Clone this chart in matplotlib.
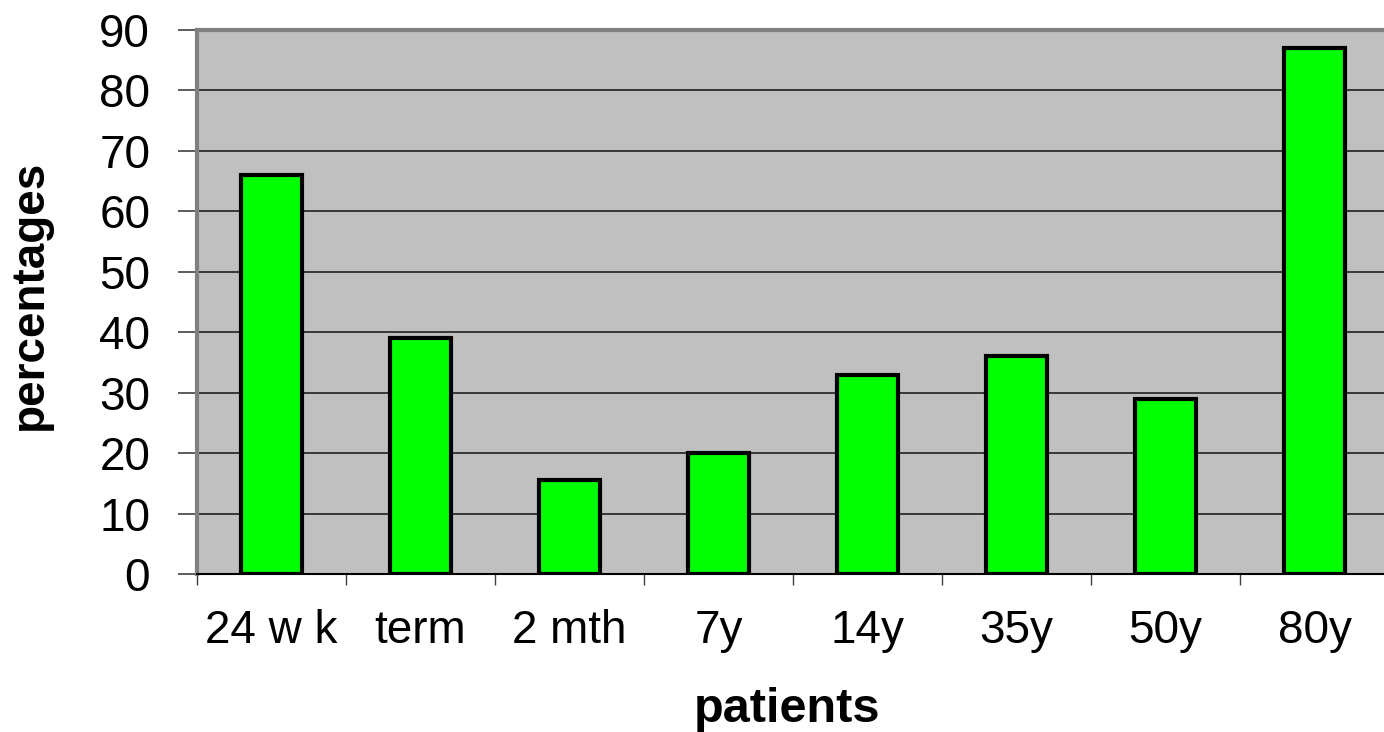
import numpy as np
import matplotlib.pyplot as plt

categories = ['24 w k', 'term', '2 mth', '7y', '14y', '35y', '50y', '80y']
values = [66, 39, 15.5, 20, 33, 36, 29, 87]
yticks = [0, 10, 20, 30, 40, 50, 60, 70, 80, 90]

plt.rcParams['font.family'] = ['Liberation Sans', 'DejaVu Sans']

fig = plt.figure(figsize=(13.84, 7.32), dpi=100)
ax = fig.add_axes([197 / 1384, 1 - 574 / 732, 1192 / 1384, 544 / 732])
ax.set_facecolor('#c0c0c0')

x = np.arange(len(categories))
ax.bar(x, values, width=0.41, color='#00ff00', edgecolor='black', linewidth=3, zorder=3)

ax.set_xlim(-0.5, len(categories) - 0.5)
ax.set_ylim(0, 90)
ax.set_yticks(yticks)
ax.set_yticklabels([str(t) for t in yticks], fontsize=33)
ax.tick_params(axis='y', length=13.7, width=1.2, color='#404040', pad=20)
ax.yaxis.grid(True, color='#202020', linewidth=1.2, zorder=1)
ax.set_axisbelow(True)

ax.set_xticks(x)
ax.set_xticklabels(categories, fontsize=33)
ax.tick_params(axis='x', which='major', length=0, pad=25)
ax.set_xticks(np.arange(len(categories) + 1) - 0.5, minor=True)
ax.tick_params(axis='x', which='minor', length=8, width=1.0, color='#404040')

for s in ['top', 'left']:
    ax.spines[s].set_color('#808080')
    ax.spines[s].set_linewidth(3)
ax.spines['bottom'].set_color('black')
ax.spines['bottom'].set_linewidth(1.5)
ax.spines['right'].set_visible(False)

fig.text(787 / 1384, 1 - 710 / 732, 'patients', fontsize=35, fontweight='bold',
         ha='center', va='center')
fig.text(30 / 1384, 1 - 295 / 732, 'percentages', fontsize=33, fontweight='bold',
         ha='center', va='center', rotation=90)

plt.savefig('out.png', dpi=100)
